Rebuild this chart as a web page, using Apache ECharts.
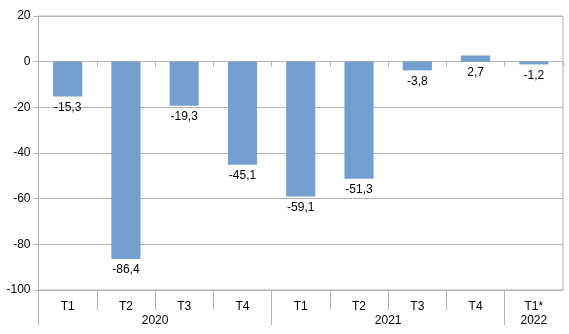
<!DOCTYPE html>
<html>
<head>
<meta charset="utf-8">
<script src="https://cdn.jsdelivr.net/npm/echarts@6/dist/echarts.min.js"></script>
<style>html,body{margin:0;padding:0;background:#fff}#c{width:569px;height:334px}</style>
</head>
<body>
<div id="c"></div>
<script>
var quarters = ['T1','T2','T3','T4','T1','T2','T3','T4','T1*'];
var years = [['2020',4],['2021',4],['2022',1]];
var values = [-15.3,-86.4,-19.3,-45.1,-59.1,-51.3,-3.8,2.7,-1.2];
var yTicks = {min:-100, max:20, interval:20};

// build half-slot label arrays (boundaryGap false, 2 points per category)
var n = quarters.length;
var qSlots = [], ySlots = [], yearTickIdx = {};
for (var i = 0; i <= 2*n; i++) { qSlots.push(''); ySlots.push(''); }
quarters.forEach(function(q, i){ qSlots[2*i+1] = q; });
var pos = 0;
years.forEach(function(y){
  yearTickIdx[2*pos] = true;
  ySlots[2*pos + y[1]] = y[0];
  pos += y[1];
});

var FONT = 'Liberation Sans';
var GRAY = '#b3b3b3';
var chart = echarts.init(document.getElementById('c'), null, {renderer:'canvas'});
chart.setOption({
  animation:false,
  grid:{left:38.5, right:6, top:16, bottom:44, show:true, borderColor:GRAY, borderWidth:1, containLabel:false},
  xAxis:[
    {type:'category', data:quarters, position:'bottom', axisLine:{onZero:true, lineStyle:{color:GRAY}},
     axisTick:{show:true, interval:0, length:5, lineStyle:{color:GRAY}}, axisLabel:{show:false}, splitLine:{show:false}},
    {type:'category', data:qSlots, boundaryGap:false, position:'bottom', axisLine:{onZero:false, show:false},
     axisTick:{show:true, length:20, interval:function(i){ return i%2===0 && i<2*n; }, lineStyle:{color:GRAY}},
     axisLabel:{show:true, interval:function(i){ return i%2===1; }, margin:11, color:'#000', fontFamily:FONT, fontSize:12}},
    {type:'category', data:ySlots, boundaryGap:false, position:'bottom', axisLine:{onZero:false, show:false},
     axisTick:{show:true, length:35, interval:function(i){ return !!yearTickIdx[i]; }, lineStyle:{color:GRAY}},
     axisLabel:{show:true, interval:function(i, v){ return v!==''; }, margin:25, color:'#000', fontFamily:FONT, fontSize:12}}
  ],
  yAxis:{type:'value', min:yTicks.min, max:yTicks.max, interval:yTicks.interval,
    axisLine:{show:true, lineStyle:{color:GRAY}}, axisTick:{show:true, length:5, lineStyle:{color:GRAY}},
    splitLine:{lineStyle:{color:GRAY}},
    axisLabel:{color:'#000', fontFamily:FONT, fontSize:12, margin:8}},
  series:[{type:'bar', xAxisIndex:0, data:values, barWidth:'50%', itemStyle:{color:'#729fcf'},
    label:{show:true, position:'bottom', distance:5, color:'#000', fontFamily:FONT, fontSize:12,
      formatter:function(p){ return String(p.value).replace('.', ','); }}}]
});
</script>
</body>
</html>
